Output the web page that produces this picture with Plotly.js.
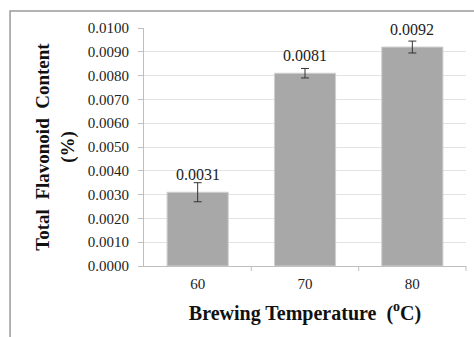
<!DOCTYPE html>
<html><head><meta charset="utf-8">
<script src="https://cdn.plot.ly/plotly-3.0.1.min.js"></script>
<style>html,body{margin:0;padding:0;background:#fff;}#chart{width:474px;height:337px;}</style>
</head><body><div id="chart"></div>
<script>
const categories = ['60', '70', '80'];
const values = [0.0031, 0.0081, 0.0092];
const errors = [0.0004, 0.0002, 0.00025];
const valueLabels = ['0.0031', '0.0081', '0.0092'];
const yTickVals = [0, 0.001, 0.002, 0.003, 0.004, 0.005, 0.006, 0.007, 0.008, 0.009, 0.010];

const serif = '"Liberation Serif", "Times New Roman", serif';

const trace = {
  type: 'bar',
  x: categories,
  y: values,
  marker: {color: '#a8a8a8', line: {color: '#d0d0d0', width: 1}},
  error_y: {type: 'data', array: errors, visible: true, color: '#333333', thickness: 1, width: 4},
  hoverinfo: 'none'
};

const annotations = categories.map((c, i) => ({
  x: i, y: values[i], xref: 'x', yref: 'y',
  text: valueLabels[i], showarrow: false, yanchor: 'bottom', yshift: 7,
  font: {family: serif, size: 16, color: '#222'}
}));

const layout = {
  width: 474, height: 337,
  margin: {l: 144, r: 8, t: 28, b: 71},
  paper_bgcolor: '#fff', plot_bgcolor: '#fff',
  showlegend: false,
  bargap: 0.43,
  font: {family: serif, color: '#222'},
  xaxis: {
    type: 'category',
    range: [-0.5, 2.5],
    showline: true, linecolor: '#bfbfbf', linewidth: 1,
    ticks: '', tickfont: {family: serif, size: 15, color: '#222'},
    ticklabelstandoff: 4,
    showgrid: false,
    title: {text: '<b>Brewing Temperature  (<sup>o</sup>C)</b>', font: {family: serif, size: 20, color: '#111'}, standoff: 14}
  },
  yaxis: {
    range: [0, 0.0100],
    tickvals: yTickVals,
    tickformat: '.4f',
    ticks: 'outside', ticklen: 5, tickcolor: '#bfbfbf',
    showline: true, linecolor: '#bfbfbf', linewidth: 1,
    gridcolor: '#e3e3e3', gridwidth: 1,
    zeroline: false,
    ticklabelstandoff: 6,
    tickfont: {family: serif, size: 15, color: '#222'},
    title: {text: '<b>Total  Flavonoid  Content</b><br><b>(%)</b>', font: {family: serif, size: 19, color: '#111'}, standoff: 8}
  },
  annotations: annotations,
  shapes: [
    {type: 'rect', xref: 'paper', yref: 'paper', x0: -0.416, x1: 1.2, y0: -0.6, y1: 1.0714,
     line: {color: '#9a9a9a', width: 1.5}, fillcolor: 'rgba(0,0,0,0)', layer: 'below'},
    {type: 'line', xref: 'paper', yref: 'paper', x0: 0.3333, x1: 0.3333, y0: 0, y1: -0.021, line: {color: '#bfbfbf', width: 1}},
    {type: 'line', xref: 'paper', yref: 'paper', x0: 0.6667, x1: 0.6667, y0: 0, y1: -0.021, line: {color: '#bfbfbf', width: 1}},
    {type: 'line', xref: 'paper', yref: 'paper', x0: 1, x1: 1, y0: 0, y1: -0.021, line: {color: '#bfbfbf', width: 1}}
  ]
};

Plotly.newPlot('chart', [trace], layout, {staticPlot: true, displayModeBar: false});
</script></body></html>
